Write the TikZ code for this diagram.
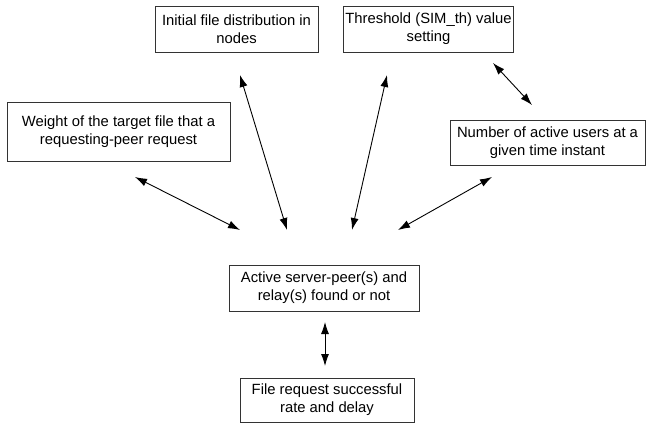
\documentclass[tikz,border=0pt]{standalone}
\usepackage{fontspec}
\setmainfont{Liberation Sans}
\usetikzlibrary{arrows.meta,positioning}

\begin{document}
\begin{tikzpicture}[x=1pt,y=-1pt,
    box/.style={draw=black!80, line width=0.9pt, align=center, inner sep=2pt,
      font=\fontsize{14.8}{18}\selectfont},
    link/.style={{Latex[length=12pt,width=8pt]}-{Latex[length=12pt,width=8pt]}, line width=0.9pt}]
  \useasboundingbox (0,0) rectangle (646,425);
  % boxes
  \node[box, minimum width=163pt, minimum height=46pt] (init) at (236.5,29) {Initial file distribution in\\nodes};
  \node[box, minimum width=169pt, minimum height=46pt] (thresh) at (428.5,29) {Threshold (SIM\_th) value\\setting};
  \node[box, minimum width=223pt, minimum height=59pt] (weight) at (118.5,131.5) {Weight of the target file that a\\requesting-peer request};
  \node[box, minimum width=195pt, minimum height=45pt] (users) at (547.5,142.5) {Number of active users at a\\given time instant};
  \node[box, minimum width=190pt, minimum height=46pt] (found) at (324,288) {Active server-peer(s) and\\relay(s) found or not};
  \node[box, minimum width=174pt, minimum height=44pt] (result) at (327,400) {File request successful\\rate and delay};
  % free arrow ends
  \coordinate (w1) at (135,177);   \coordinate (w2) at (240,230);
  \coordinate (i1) at (240,75);    \coordinate (i2) at (287,230);
  \coordinate (t1) at (387,75);    \coordinate (t2) at (352,230);
  \coordinate (u1) at (492,177);   \coordinate (u2) at (398,230);
  \coordinate (tu1) at (493,63);   \coordinate (tu2) at (532,105);
  \coordinate (f1) at (325,322);   \coordinate (f2) at (325,366);
  % arrows
  \draw[link] (w1) -- (w2);
  \draw[link] (i1) -- (i2);
  \draw[link] (t1) -- (t2);
  \draw[link] (u1) -- (u2);
  \draw[link] (tu1) -- (tu2);
  \draw[link] (f1) -- (f2);
\end{tikzpicture}
\end{document}
